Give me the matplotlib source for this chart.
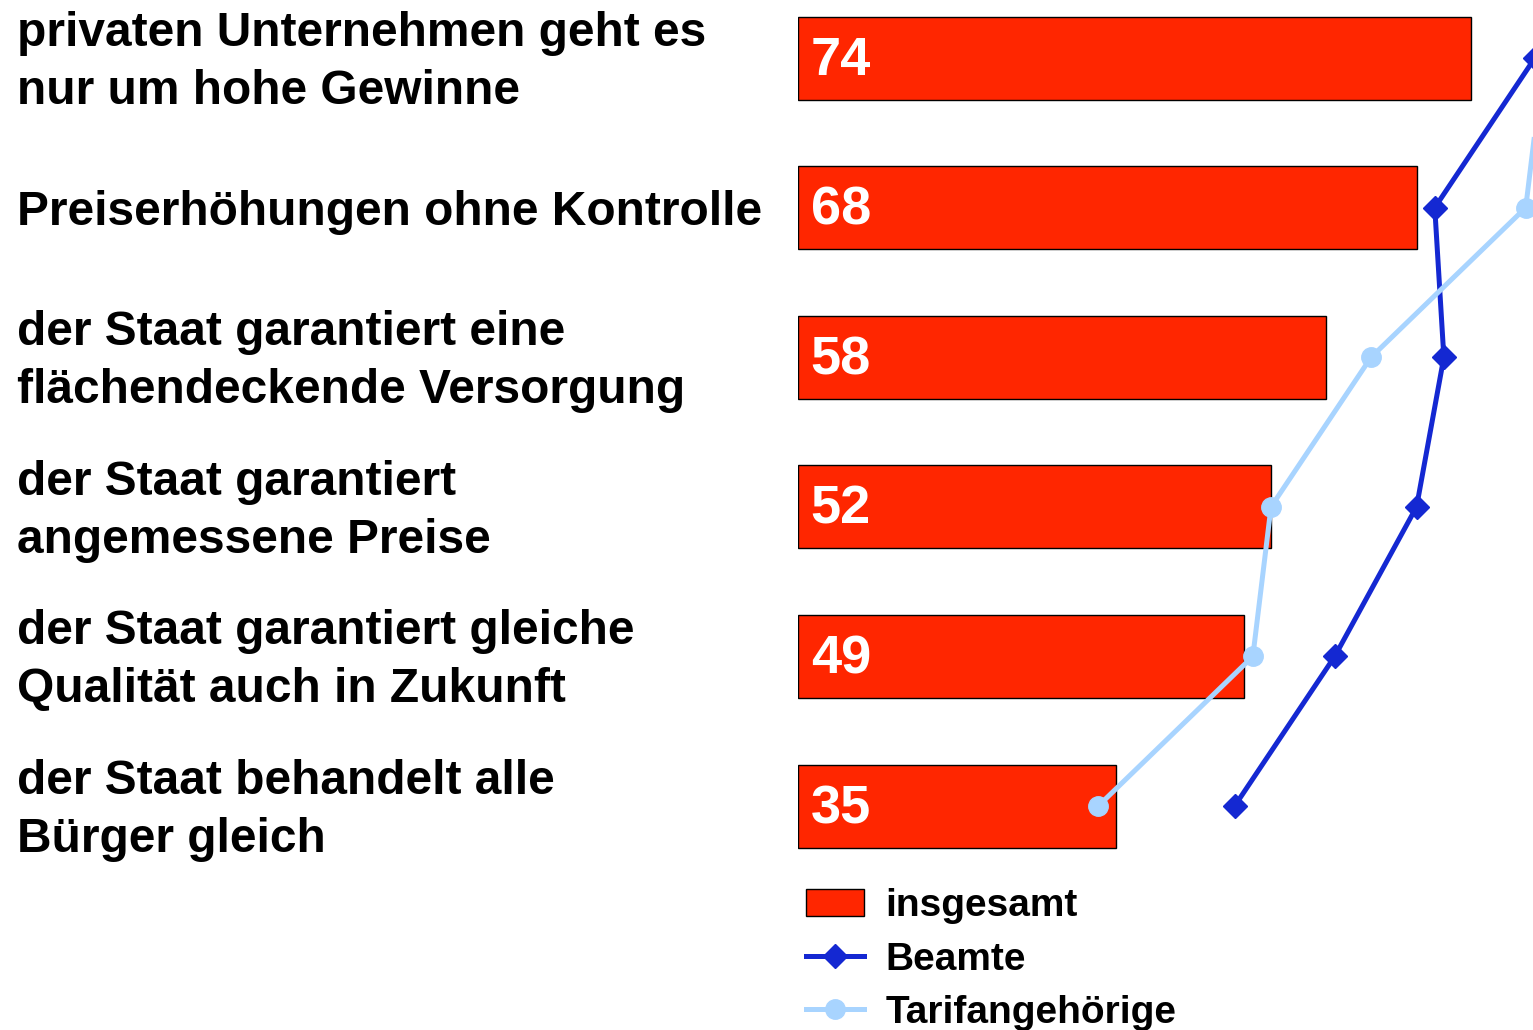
import matplotlib.pyplot as plt
import matplotlib.transforms as mtransforms

# Daten
kategorien = [
    'privaten Unternehmen geht es\nnur um hohe Gewinne',
    'Preiserhöhungen ohne Kontrolle',
    'der Staat garantiert eine\nflächendeckende Versorgung',
    'der Staat garantiert\nangemessene Preise',
    'der Staat garantiert gleiche\nQualität auch in Zukunft',
    'der Staat behandelt alle\nBürger gleich',
]
insgesamt = [74, 68, 58, 52, 49, 35]
beamte = [81, 70, 71, 68, 59, 48]
tarif = [82, 80, 63, 52, 50, 33]

rot = '#FF2600'
dunkelblau = '#1428D2'
hellblau = '#A8D4FF'

plt.rcParams['font.family'] = ['Liberation Sans', 'DejaVu Sans']
plt.rcParams['font.weight'] = 'bold'

fig = plt.figure(figsize=(15.33, 10.3), dpi=100)
ax = fig.add_axes([798 / 1533, 0, (1533 - 798) / 1533, 1])

pos = list(range(len(kategorien)))
balken = ax.barh(pos, insgesamt, height=0.555, color=rot, edgecolor='black',
                 linewidth=1, label='insgesamt', zorder=2)
l1, = ax.plot(beamte, pos, color=dunkelblau, lw=3.6, marker='D', ms=12,
              label='Beamte', zorder=3)
l2, = ax.plot(tarif, pos, color=hellblau, lw=3.6, marker='o', ms=14,
              label='Tarifangehörige', zorder=3)

for i, v in enumerate(insgesamt):
    ax.text(1.4, i + 0.02, str(v), color='white', fontsize=39, fontweight='bold',
            ha='left', va='center', zorder=4)

# Beschriftungen links
trans = mtransforms.blended_transform_factory(fig.transFigure, ax.transData)
for i, k in enumerate(kategorien):
    ax.text(17 / 1533, i + 0.03, k, transform=trans, fontsize=34.5,
            fontweight='bold', ha='left', va='center', linespacing=1.37)

ax.set_xlim(0, 80.8)
ax.set_ylim(6.497, -0.388)
ax.axis('off')

fig.legend([balken, l1, l2], ['insgesamt', 'Beamte', 'Tarifangehörige'],
           loc='upper left', bbox_to_anchor=(806 / 1533, 1 - 888 / 1030),
           frameon=False, fontsize=28, handlelength=1.5, handletextpad=0.55,
           labelspacing=0.45, borderpad=0, borderaxespad=0)

fig.savefig('out.png', dpi=100)
